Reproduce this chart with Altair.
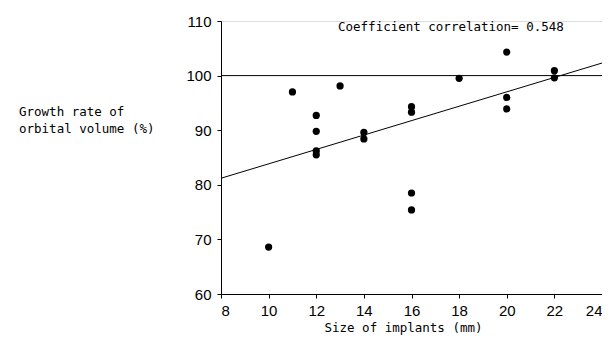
import altair as alt
import pandas as pd

# Data
size_mm = [10, 11, 12, 12, 12, 12, 13, 14, 14, 16, 16, 16, 16, 18, 20, 20, 20, 22, 22]
growth = [68.6, 97.0, 92.7, 89.8, 86.2, 85.5, 98.1, 89.6, 88.4, 94.3, 93.3, 78.5, 75.4, 99.5, 104.3, 96.0, 93.9, 100.9, 99.6]

reg_x = [8, 24]
reg_y = [81.2, 102.3]
ref_x = [8, 24]
ref_y = [100, 100]

x_ticks = [8, 10, 12, 14, 16, 18, 20, 22, 24]
y_ticks = [60, 70, 80, 90, 100, 110]

pts = pd.DataFrame({"x": size_mm, "y": growth})
reg = pd.DataFrame({"x": reg_x, "y": reg_y})
ref = pd.DataFrame({"x": ref_x, "y": ref_y})

MONO = "DejaVu Sans Mono"

xs = alt.Scale(domain=[8, 24], nice=False, zero=False)
ys = alt.Scale(domain=[60, 110], nice=False, zero=False)

xax = alt.Axis(values=x_ticks, title="Size of implants (mm)", grid=False,
               labelFont="Liberation Sans", labelFontSize=15, labelColor="black",
               labelPadding=5, tickSize=4, tickColor="black", domainColor="black",
               titleFont=MONO, titleFontSize=12.5, titleFontWeight="normal",
               titleColor="black", titlePadding=3, titleX=182)
yax = alt.Axis(values=y_ticks, title=None, grid=False,
               labelFont="Liberation Sans", labelFontSize=15, labelColor="black",
               labelPadding=6, tickSize=4, tickColor="black", domainColor="black")

points = alt.Chart(pts).mark_circle(size=52, color="black", opacity=1).encode(
    x=alt.X("x:Q", scale=xs, axis=xax),
    y=alt.Y("y:Q", scale=ys, axis=yax),
)

reg_line = alt.Chart(reg).mark_line(color="black", strokeWidth=1).encode(
    x=alt.X("x:Q", scale=xs), y=alt.Y("y:Q", scale=ys))
ref_line = alt.Chart(ref).mark_line(color="black", strokeWidth=1).encode(
    x=alt.X("x:Q", scale=xs), y=alt.Y("y:Q", scale=ys))

coef = alt.Chart(pd.DataFrame({"t": ["Coefficient correlation= 0.548"]})).mark_text(
    font=MONO, fontSize=12.5, align="left", baseline="middle", color="black"
).encode(text="t:N", x=alt.value(117), y=alt.value(6))

ylab = alt.Chart(pd.DataFrame({"t": ["Growth rate of", "orbital volume (%)"],
                               "yy": [91, 108]})).mark_text(
    font=MONO, fontSize=12.5, align="left", baseline="middle", color="black"
).encode(text="t:N", x=alt.value(-202), y=alt.Y("yy:Q", scale=None))

chart = alt.layer(ref_line, reg_line, points, coef, ylab).properties(
    width=381, height=273,
    autosize=alt.AutoSizeParams(type="none"),
    padding={"left": 213, "top": 13, "right": 0, "bottom": 42},
).configure_view(stroke=None).configure(background="white")

chart.save("out.html", embed_options={"renderer": "svg", "actions": False})
